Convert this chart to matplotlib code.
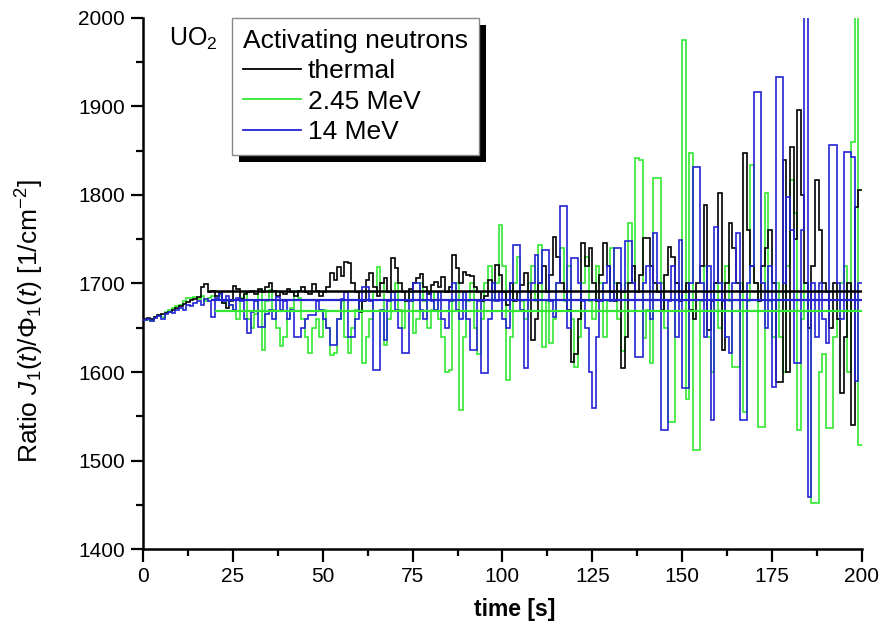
import numpy as np
import matplotlib
matplotlib.use("Agg")
import matplotlib.pyplot as plt
from matplotlib.patches import Rectangle
from matplotlib.ticker import MultipleLocator

plt.rcParams['font.family'] = ['Liberation Sans', 'DejaVu Sans']
plt.rcParams['mathtext.fontset'] = 'custom'
plt.rcParams['mathtext.rm'] = 'Liberation Sans'
plt.rcParams['mathtext.it'] = 'Liberation Sans:italic'

# ---- data (1 s steps) ----
time_edges = np.arange(0, 201)

thermal = [
    1660,1661,1660,1662,1664,1665,1667,1668,1670,1672,
    1675,1677,1679,1681,1683,1685,1696,1699,1690,1692,
    1686,1690,1678,1672,1680,1697,1694,1682,1688,1690,
    1692,1688,1694,1690,1696,1700,1692,1686,1690,1688,
    1694,1690,1686,1692,1696,1690,1688,1699,1692,1686,
    1690,1696,1712,1704,1719,1708,1724,1723,1700,1690,
    1668,1680,1704,1712,1696,1686,1700,1706,1690,1729,
    1718,1700,1690,1680,1694,1700,1706,1711,1696,1688,
    1698,1702,1696,1707,1690,1696,1732,1718,1700,1713,
    1710,1708,1696,1690,1680,1686,1704,1690,1721,1710,
    1690,1676,1700,1680,1690,1698,1712,1690,1636,1660,
    1700,1720,1690,1710,1753,1730,1700,1690,1670,1611,
    1620,1660,1746,1720,1740,1700,1680,1710,1746,1720,
    1690,1680,1700,1604,1640,1700,1720,1690,1710,1751,
    1751,1720,1700,1690,1670,1710,1741,1730,1700,1680,
    1690,1700,1670,1660,1700,1720,1789,1647,1680,1700,
    1802,1625,1700,1768,1740,1700,1690,1847,1760,1720,
    1700,1680,1720,1740,1760,1700,1589,1589,1840,1600,
    1854,1750,1896,1800,1700,1650,1720,1817,1760,1700,
    1690,1650,1700,1660,1576,1640,1700,1540,1786,1805,
]

mev245 = [
    1660,1659,1658,1662,1663,1662,1668,1670,1672,1674,
    1676,1680,1684,1684,1685,1682,1686,1680,1684,1686,
    1682,1686,1678,1680,1676,1670,1660,1684,1690,1660,
    1650,1665,1693,1625,1680,1693,1670,1650,1629,1640,
    1660,1672,1690,1684,1660,1640,1622,1650,1660,1640,
    1670,1650,1619,1622,1660,1680,1640,1621,1650,1670,
    1680,1610,1640,1660,1690,1719,1700,1630,1660,1690,
    1700,1670,1650,1680,1690,1644,1660,1700,1680,1650,
    1670,1690,1660,1640,1600,1602,1680,1700,1557,1640,
    1680,1700,1650,1620,1660,1700,1720,1680,1700,1766,
    1720,1591,1640,1700,1730,1680,1660,1700,1720,1680,
    1743,1628,1680,1633,1660,1700,1740,1680,1720,1660,
    1606,1640,1700,1730,1680,1660,1720,1700,1640,1680,
    1740,1700,1660,1624,1700,1768,1700,1842,1840,1638,
    1670,1610,1819,1819,1700,1650,1543,1543,1700,1680,
    1975,1570,1847,1512,1512,1680,1720,1640,1600,1700,
    1650,1700,1720,1680,1606,1606,1700,1555,1680,1834,
    1700,1538,1538,1802,1680,1640,1700,1640,1600,1720,
    1817,1780,1535,1660,1700,1650,1452,1452,1600,1620,
    1537,1537,1640,1660,1700,1720,1600,1860,2010,1518,
]

mev14 = [
    1659,1660,1658,1661,1663,1660,1665,1668,1667,1670,
    1672,1670,1676,1674,1678,1680,1676,1682,1680,1662,
    1684,1688,1680,1686,1676,1670,1684,1680,1660,1644,
    1668,1680,1651,1651,1665,1670,1660,1685,1670,1680,
    1660,1670,1640,1640,1650,1660,1664,1664,1680,1670,
    1660,1650,1630,1630,1660,1683,1690,1640,1640,1660,
    1680,1696,1696,1680,1602,1602,1670,1636,1680,1690,
    1670,1650,1621,1621,1680,1700,1700,1670,1660,1690,
    1680,1670,1690,1660,1650,1680,1700,1670,1660,1690,
    1660,1625,1625,1680,1599,1599,1660,1700,1680,1690,
    1660,1650,1700,1743,1743,1670,1604,1690,1700,1732,
    1700,1738,1738,1680,1662,1700,1787,1787,1650,1729,
    1729,1700,1680,1650,1600,1559,1640,1680,1700,1720,
    1680,1740,1740,1690,1748,1748,1700,1617,1617,1700,
    1720,1660,1757,1700,1534,1534,1680,1720,1640,1749,
    1582,1582,1700,1832,1832,1700,1640,1720,1546,1764,
    1700,1680,1640,1621,1700,1757,1546,1546,1700,1720,
    1916,1916,1700,1650,1720,1583,1933,1933,1700,1798,
    1760,1610,1610,1760,2010,1459,1700,1640,1700,1660,
    1633,1856,1856,1700,1660,1849,1849,1843,1590,1700,
]

# mean levels and where their horizontal lines begin
mean_thermal, start_thermal = 1692, 18
mean_245, start_245 = 1669, 20
mean_14, start_14 = 1681, 19

labels = ["thermal", "2.45 MeV", "14 MeV"]
colors = ["#000000", "#33e833", "#2424d4"]

fig = plt.figure(figsize=(8.83, 6.37), dpi=100)
ax = fig.add_axes([0.162, 0.138, 0.814, 0.834])

lw = 1.2
ax.stairs(mev245, time_edges, baseline=None, color=colors[1], lw=lw, zorder=2)
ax.stairs(mev14, time_edges, baseline=None, color=colors[2], lw=lw, zorder=3)
ax.stairs(thermal, time_edges, baseline=None, color=colors[0], lw=lw, zorder=2.5)

ax.hlines(mean_245, start_245, 200, color=colors[1], lw=1.6, zorder=4)
ax.hlines(mean_14, start_14, 200, color=colors[2], lw=1.6, zorder=4)
ax.hlines(mean_thermal, start_thermal, 200, color=colors[0], lw=1.8, zorder=4)

ax.set_xlim(0, 200)
ax.set_ylim(1400, 2000)
ax.xaxis.set_major_locator(MultipleLocator(25))
ax.xaxis.set_minor_locator(MultipleLocator(12.5))
ax.yaxis.set_major_locator(MultipleLocator(100))
ax.yaxis.set_minor_locator(MultipleLocator(50))

for s in ['top', 'right']:
    ax.spines[s].set_visible(False)
for s in ['left', 'bottom']:
    ax.spines[s].set_linewidth(1.8)
ax.tick_params(axis='both', which='major', direction='out', length=9, width=1.6,
               labelsize=15, pad=4)
ax.tick_params(axis='both', which='minor', direction='out', length=5, width=1.6)

ax.set_xlabel("time [s]", fontsize=16.5, fontweight='bold')
ax.xaxis.set_label_coords(0.517, -0.092)
ax.set_ylabel(r"Ratio $J_1$($t$)/Φ$_1$($t$) [1/cm$^{-2}$]", fontsize=19)
ax.yaxis.set_label_coords(-0.135, 0.43)

ax.text(0.036, 0.985, r"UO$_2$", transform=ax.transAxes, fontsize=18,
        ha='left', va='top')

handles = [plt.Line2D([], [], color=c, lw=1.3) for c in colors]
leg = ax.legend(handles, labels, title="Activating neutrons", loc='upper left',
                bbox_to_anchor=(0.124, 1.0), fontsize=19, title_fontsize=19,
                frameon=True, fancybox=False, edgecolor='#888888', framealpha=1.0,
                facecolor='white',
                handlelength=2.2, handletextpad=0.25, labelspacing=0.24,
                borderpad=0.42, borderaxespad=0.0)
leg.get_frame().set_linewidth(1.0)
leg._legend_box.align = "left"
leg.set_zorder(10)

fig.canvas.draw()
bb = leg.get_window_extent()
W, H = fig.bbox.width, fig.bbox.height
off = 7
shadow = Rectangle(((bb.x0 + off) / W, (bb.y0 - off) / H), bb.width / W, bb.height / H,
                   transform=fig.transFigure, facecolor='black', edgecolor='none',
                   zorder=9)
shadow.set_clip_on(False)
ax.add_artist(shadow)

fig.savefig("out.png", dpi=100)
